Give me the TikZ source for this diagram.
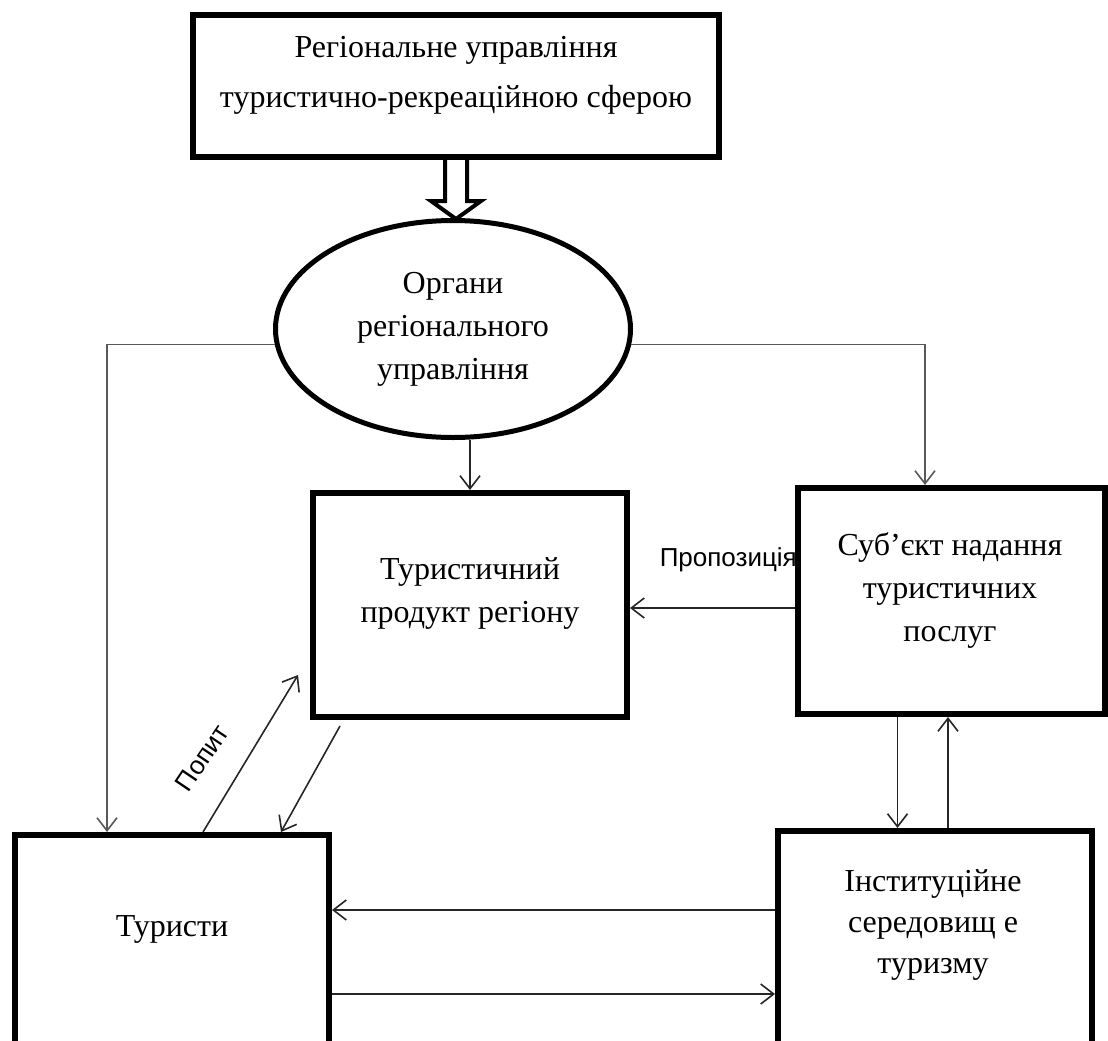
\documentclass[tikz,border=0pt]{standalone}
\usepackage{fontspec}
\setmainfont{Liberation Serif}
\newfontfamily\lsans{Liberation Sans}
\usetikzlibrary{shapes.geometric,arrows.meta,calc}
\begin{document}
\begin{tikzpicture}[x=1pt,y=-1pt,
 box/.style={draw,line width=6pt,inner sep=0pt,fill=white},
 txt/.style={align=center,font=\fontsize{32}{43}\selectfont,inner sep=0pt},
 conn/.style={line width=1.6pt,draw=black!85,-{Straight Barb[length=13pt,width=20pt]}},
 feed/.style={conn,draw=black!65},
 lbl/.style={font=\lsans\fontsize{26}{30}\selectfont,inner sep=0pt}
 ]
\path[use as bounding box,clip] (0,0) rectangle (1108,1041);
% boxes
\node[box,minimum width=526,minimum height=142] (top) at (456,86) {};
\node[draw,ellipse,line width=5pt,fill=white,inner sep=0pt,minimum width=355,minimum height=217] (ell) at (453,329) {};
\node[box,minimum width=314,minimum height=224] (prod) at (470,605) {};
\node[box,minimum width=307,minimum height=226] (subj) at (951.5,601) {};
\node[box,minimum width=314,minimum height=225] (tour) at (172,947.5) {};
\node[box,minimum width=314,minimum height=229] (inst) at (935,945.5) {};
% texts
\node[txt,font=\fontsize{32}{50}\selectfont] (topT) at (456,75) {Регіональне управління\\туристично-рекреаційною сферою};
\node[txt] (ellT) at (453,329) {Органи\\регіонального\\управління};
\node[txt] (prodT) at (470,593) {Туристичний\\продукт регіону};
\node[txt] (subjT) at (950,590) {Суб’єкт надання\\туристичних\\послуг};
\node[txt] (tourT) at (172,929) {Туристи};
\node[txt,font=\fontsize{32}{41}\selectfont] (instT) at (933,925) {Інституційне\\середовищ е\\туризму};
% hollow thick arrow
\draw[line width=4pt,line join=miter] ($(top.south)+(-11,0)$) -- ++(0,41) -- ++(-14,0) -- ++(25,18) -- ++(25,-18) -- ++(-14,0) -- ++(0,-41);
% connectors
\draw[feed] (ell.185) -| ([xshift=-65pt]tour.north);
\draw[feed] (ell.355) -| ([xshift=-26.5pt]subj.north);
\draw[conn] (prod.north |- ell.south) -- (prod.north);
\draw[conn] ([yshift=-7pt]subj.west) -- ([yshift=-7pt]subj.west -| prod.east);
\node[lbl,anchor=east] (prop) at (797,560) {Пропозиція};
\coordinate (popEnd) at (298,675);
\draw[conn] ([xshift=31pt]tour.north) -- (popEnd);
\node[lbl,rotate=56] (popyt) at (202,758) {Попит};
\coordinate (offStart) at (340,726);
\draw[conn] (offStart) -- ([xshift=109pt]tour.north);
\draw[conn] ([xshift=-54pt]subj.south) -- ([xshift=-54pt]subj.south |- inst.north);
\draw[conn] ([xshift=-3.5pt]subj.south |- inst.north) -- ([xshift=-3.5pt]subj.south);
\draw[conn] ([yshift=35.5pt]inst.west) -- ([yshift=35.5pt]inst.west -| tour.east);
\draw[conn] ([yshift=-46.5pt]tour.east) -- ([yshift=-46.5pt]tour.east -| inst.west);
\end{tikzpicture}
\end{document}
